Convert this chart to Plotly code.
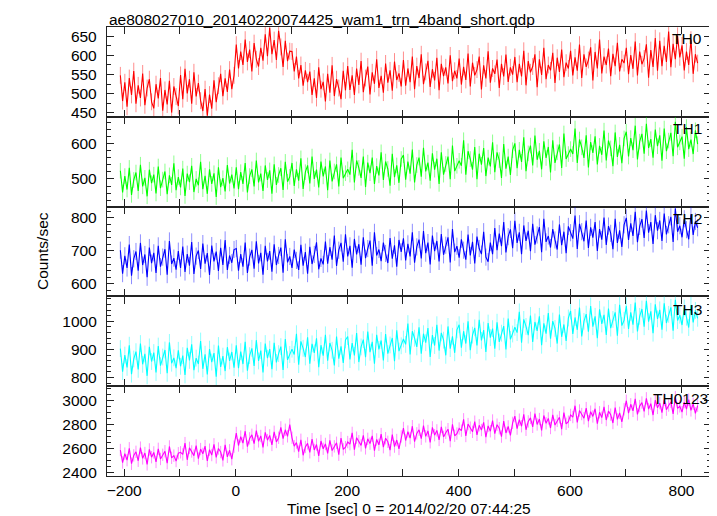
import plotly.graph_objects as go
from plotly.subplots import make_subplots

# ---- data (light curves read at 4 s steps) ----
t_start = -207
t_step = 4

th0 = [548, 481, 530, 466, 541, 497, 559, 474, 522, 489, 553, 470, 515, 538, 479,
       462, 525, 488, 541, 456, 510, 472, 534, 451, 519, 493, 468,
       549, 486, 565, 501, 538, 474, 556, 493, 528, 482,
       455, 512, 443, 498, 461,
       535, 478, 521, 552, 494, 540, 505, 563, 512, 548,
       628, 566, 610, 575, 641, 583, 615, 558, 632, 590, 571, 620, 586,
       655, 598, 672, 603, 640, 588, 664,
       622, 570, 638, 585, 611,
       610, 558, 597, 540, 575, 521, 561, 530,
       558, 497, 540, 489, 569, 512, 531, 480, 552, 503, 574, 494, 538, 515, 486, 560, 509,
       572, 510, 548, 497, 566, 523, 585, 504, 541, 571, 498, 556, 526, 590, 515, 547, 503, 579, 529, 561, 508, 584, 536, 553, 519,
       588, 521, 566, 530, 597, 512, 572, 541, 603, 525, 557, 586, 518, 564, 535, 594, 509, 578, 546, 569, 527, 600, 533, 560, 540,
       592, 524, 570, 536, 605, 519, 581, 548, 563, 597, 511, 574, 540, 611, 529, 566, 552, 589, 515, 578, 545, 602, 531, 569, 550,
       596, 530, 578, 545, 612, 522, 585, 556, 571, 603, 517, 590, 549, 620, 538, 575, 561, 607, 528, 594, 557, 615, 543, 581, 566,
       612, 548, 595, 560, 628, 541, 603, 570, 588, 621, 535, 609, 566, 641, 553, 597, 575, 618, 546, 604, 572, 633, 558, 590, 580,
       620, 551, 601, 565, 636, 548, 610, 577, 592, 629, 542, 614, 570, 645, 560,
       638, 572, 625, 583, 662, 569, 630, 590, 651, 595,
       626, 561, 610, 575, 641, 552, 603, 580]

th1 = [523, 462, 508, 470, 531, 455, 497, 518, 466, 540, 479, 503, 451, 526, 488, 512, 459, 535, 474, 498, 521, 457, 510, 483, 544, 468,
       505, 476, 529, 452, 515, 491, 537, 463, 500, 482, 548, 471, 509, 458, 527, 486, 516, 449, 533, 477, 502, 465, 539, 487, 512, 473,
       533, 471, 519, 486, 545, 462, 508, 527, 479, 552, 490, 515, 466, 538, 497, 524, 458, 541, 483, 511, 530, 469, 548, 492, 506,
       545, 480, 527, 495, 558, 472, 519, 538, 487, 563, 500, 526, 476, 549, 507, 535, 468, 552, 493, 521, 541, 479, 560, 502, 516,
       527, 512, 582, 490, 552, 531, 503, 563, 477, 546, 516, 560, 486, 536, 510, 575, 497, 549, 528, 481, 571, 505, 538, 489, 556,
       567, 498, 549, 515, 583, 490, 539, 560, 506, 588, 521, 546, 495, 572, 526, 557, 486, 575, 512, 542, 563, 499, 594, 522, 537,
       551, 537, 609, 512, 578, 556, 526, 590, 499, 571, 540, 587, 508, 560, 535, 603, 519, 575, 553, 503, 598, 529, 563, 511, 581,
       600, 530, 582, 548, 617, 522, 572, 594, 538, 622, 554, 579, 527, 606, 559, 590, 518, 609, 545, 575, 597, 531, 628, 556, 570,
       584, 570, 642, 545, 611, 589, 559, 623, 532, 604, 573, 620, 541, 593, 568, 636, 552, 608, 586, 536, 631, 562, 596, 544, 614,
       633, 563, 615, 581, 650, 555, 605, 627, 571, 655, 587, 612, 560, 639, 592, 623, 551, 642, 578, 608, 630, 564, 661, 589, 603,
       619, 557, 646, 584, 611, 570, 637, 598]

th2 = [702, 631, 685, 648, 719, 625, 676, 698, 640, 724, 657, 689, 620, 710, 663, 694, 633, 715, 652, 681, 705, 628, 730, 660, 678, 643, 699,
       648, 713, 636, 690, 655, 727, 630, 684, 701, 645, 722, 661, 693, 627, 716, 668, 698, 639, 709, 657, 733, 642, 686, 664, 704,
       707, 640, 690, 652, 725, 633, 681, 703, 646, 729, 662, 694, 628, 715, 668, 699, 637, 720, 657, 686,
       710, 634, 735, 665, 683, 648, 704, 671, 642, 718, 655, 696, 631, 712, 660, 689, 726, 644, 677, 659,
       728, 661, 711, 673, 746, 654, 702, 724, 667, 750, 683, 715, 649, 736, 689, 720, 658, 741, 678, 707,
       731, 655, 756, 686, 704, 669, 725, 692, 663, 739, 676, 717, 652, 733, 697,
       738, 671, 721, 683, 756, 664, 712, 734, 677, 760, 693, 725, 659, 746, 699, 730, 668, 751, 688, 717,
       741, 665, 766, 696, 714, 679, 735, 702, 673, 749, 686, 727, 662, 743, 707, 690, 758, 681,
       667, 725, 690,
       769, 702, 752, 714, 787, 695, 743, 765, 708, 791, 724, 756, 690, 777, 730, 761, 699, 782, 719, 748,
       772, 696, 797, 727, 745, 710, 766, 733, 704, 780, 717, 758, 693, 774,
       755, 737, 807, 706, 782, 758, 729, 792, 709, 771, 740, 787, 700, 766, 734, 801, 718, 775, 753, 705, 797, 724, 762, 712, 779,
       800, 733, 783, 745, 818, 726, 774, 796, 739, 822, 755, 787, 721, 808, 761, 792, 730, 813, 750, 779,
       803, 727, 828, 758, 776, 741, 797, 764, 735, 811, 748, 789, 770]

th3 = [903, 821, 880, 836, 915, 812, 866, 892, 829, 921, 847, 884, 806, 909, 857, 889, 818, 912, 842, 873, 898, 815, 925, 851, 870, 833,
       897, 840, 878, 809, 906, 861, 918, 826, 869, 848, 930, 831, 883, 811, 901, 855, 887, 803, 914, 838, 876, 823, 908, 859, 891, 835,
       915, 833, 892, 848, 927, 824, 878, 904, 841, 933, 859, 896, 818, 921, 869, 901, 830, 924, 854, 885, 910, 827, 937, 863, 882,
       901, 882, 956, 846, 929, 904, 873, 943, 849, 920, 888, 940, 837, 915, 878, 952, 860, 923, 897, 843, 946, 867, 911, 852, 934,
       946, 864, 923, 879, 958, 855, 909, 935, 872, 964, 890, 927, 849, 952, 900, 932, 861, 955, 885, 916, 941, 858, 968, 894, 913,
       937, 918, 992, 882, 965, 940, 909, 979, 885, 956, 924, 976, 873, 951, 914, 988, 896, 959, 933, 879, 982, 903, 947, 888, 970,
       988, 906, 965, 921, 1000, 897, 951, 977, 914, 1006, 932, 969, 891, 994, 942, 974, 903, 997, 927, 958, 983, 900, 1010, 936, 955,
       979, 960, 1034, 924, 1007, 982, 951, 1021, 927, 998, 966, 1018, 915, 993, 956, 1030, 938, 1001, 975, 921, 1024, 945, 989, 930, 1012,
       1037, 955, 1014, 970, 1049, 946, 1000, 1026, 963, 1055, 981, 1018, 940, 1043, 991, 1023, 952, 1046, 976, 1007, 1032, 949, 1059, 985, 1004,
       1055, 973, 1032, 988, 1067, 964, 1018, 1044, 981, 1073, 999, 1036, 958, 1061, 1009, 1041, 970, 1064, 994, 1025, 1050, 967, 1077, 1003, 1022,
       987, 1048, 1015, 978, 1058, 996, 1039, 1011]

th0123 = [2587, 2482, 2557, 2502, 2602, 2472, 2542, 2572, 2497, 2607, 2517, 2562, 2467, 2592, 2527, 2567, 2487, 2597, 2512, 2547,
          2577, 2477, 2617, 2522, 2540, 2495, 2560,
          2568, 2550, 2645, 2505, 2605, 2575, 2540, 2625, 2515, 2595, 2555, 2620, 2495, 2590, 2545, 2635, 2525, 2600, 2570, 2500,
          2630, 2530, 2585, 2510, 2615,
          2730, 2625, 2700, 2645, 2745, 2615, 2685, 2715, 2640, 2750, 2660, 2705, 2610, 2735, 2670, 2710, 2630, 2740, 2655, 2690,
          2777, 2682, 2757, 2702, 2800,
          2690, 2620, 2650, 2573, 2673, 2543, 2613, 2643, 2568, 2678, 2588, 2633, 2538, 2663, 2598, 2638, 2558, 2668, 2583, 2618,
          2648, 2548, 2688, 2593, 2611,
          2654, 2636, 2731, 2591, 2691, 2661, 2626, 2711, 2601, 2681, 2641, 2706, 2581, 2676, 2631, 2721, 2611, 2686, 2656, 2586,
          2716, 2616, 2671, 2596, 2701,
          2772, 2667, 2742, 2687, 2787, 2657, 2727, 2757, 2682, 2792, 2702, 2747, 2652, 2777, 2712, 2752, 2672, 2782, 2697, 2732,
          2762, 2662, 2802, 2707, 2725,
          2768, 2750, 2845, 2705, 2805, 2775, 2740, 2825, 2715, 2795, 2755, 2820, 2695, 2790, 2745, 2835, 2725, 2800, 2770, 2700,
          2830, 2730, 2785, 2710, 2815,
          2872, 2767, 2842, 2787, 2887, 2757, 2827, 2857, 2782, 2892, 2802, 2847, 2752, 2877, 2812, 2852, 2772, 2882, 2797, 2832,
          2862, 2762, 2902, 2807, 2825,
          2882, 2864, 2959, 2819, 2919, 2889, 2854, 2939, 2829, 2909, 2869, 2934, 2809, 2904, 2859, 2949, 2839, 2914, 2884, 2814,
          2944, 2844, 2899, 2824, 2929,
          3001, 2896, 2971, 2916, 3016, 2886, 2956, 2986, 2911, 3021, 2931, 2976, 2881, 3006, 2941, 2981, 2901, 3011, 2926, 2961,
          2991, 2891, 3031, 2936, 2954, 2905, 2990, 2930, 3010, 2920, 2975, 2895, 2960]

band_names = ["TH0", "TH1", "TH2", "TH3", "TH0123"]
band_errors = [22, 22, 26, 30, 52]
x_tick_vals = [-200, -100, 0, 100, 200, 300, 400, 500, 600, 700, 800]
x_tick_text = ["\u2212200", "", "0", "", "200", "", "400", "", "600", "", "800"]

series = [th0, th1, th2, th3, th0123]

# ---- style ----
colors = ["#ff0000", "#00ff00", "#0000ff", "#00ffff", "#ff00ff"]
err_colors = ["rgba(255,0,0,0.45)", "rgba(0,255,0,0.45)", "rgba(0,0,255,0.45)",
              "rgba(0,255,255,0.45)", "rgba(255,0,255,0.45)"]
y_ranges = [[440, 674], [422, 675], [562, 834], [769, 1089], [2369, 3123]]
y_dticks = [50, 100, 100, 100, 200]
y_minor = [25, 20, 20, 20, 50]
FONT = "Liberation Sans, Arial, Helvetica, sans-serif"
FS = 15.5

fig = make_subplots(rows=5, cols=1, shared_xaxes=True, vertical_spacing=0)

for k in range(5):
    vals = series[k]
    times = [t_start + t_step * i for i in range(len(vals))]
    fig.add_trace(go.Scatter(
        x=times, y=vals, mode="lines",
        line=dict(color=colors[k], width=1.1),
        error_y=dict(type="constant", value=band_errors[k], color=err_colors[k],
                     thickness=1, width=0),
        showlegend=False, hoverinfo="skip"), row=k + 1, col=1)
    fig.update_yaxes(row=k + 1, col=1, range=y_ranges[k], dtick=y_dticks[k],
                     tick0=0, ticks="inside", ticklen=7, tickwidth=1, tickcolor="#222",
                     minor=dict(dtick=y_minor[k], ticks="inside", ticklen=4, tickwidth=1,
                                tickcolor="#222"),
                     showline=True, linecolor="#222", linewidth=1.3, mirror="allticks",
                     showgrid=False, zeroline=False, ticklabelstandoff=6,
                     tickfont=dict(family=FONT, size=FS, color="black"))
    fig.update_xaxes(row=k + 1, col=1, range=[-231, 853], tickmode="array",
                     tickvals=x_tick_vals, ticktext=x_tick_text,
                     ticks="inside", ticklen=7, tickwidth=1, tickcolor="#222",
                     showline=True, linecolor="#222", linewidth=1.3, mirror="allticks",
                     showgrid=False, zeroline=False, showticklabels=(k == 4),
                     tickfont=dict(family=FONT, size=FS, color="black"))

# the figure sits 8 px in from the page corner (page body margin)
ph = 449.0
panel_tops = [27, 117, 207, 297, 386]
label_right = [0.989, 0.989, 0.989, 0.989, 0.998]
annotations = []
for k in range(5):
    yc = 1 - (panel_tops[k] + 12 - 27) / ph
    annotations.append(dict(text=band_names[k], xref="paper", yref="paper",
                            x=label_right[k], y=yc, xanchor="right", yanchor="middle",
                            showarrow=False, font=dict(family=FONT, size=FS, color="black")))
annotations.append(dict(text="ae808027010_20140220074425_wam1_trn_4band_short.qdp",
                        xref="paper", yref="paper", x=0.0, y=1 + 18.5 / ph,
                        xanchor="left", yanchor="top", showarrow=False,
                        font=dict(family=FONT, size=FS, color="black")))
annotations.append(dict(text="Counts/sec", xref="paper", yref="paper",
                        x=(42 - 107) / 604.0, y=1 - (251 - 27) / ph, textangle=-90,
                        xanchor="center", yanchor="middle", showarrow=False,
                        font=dict(family=FONT, size=FS, color="black")))
annotations.append(dict(text="Time [sec] 0 = 2014/02/20 07:44:25",
                        xref="paper", yref="paper", x=0.5, y=-(508 - 476) / ph,
                        xanchor="center", yanchor="middle", showarrow=False,
                        font=dict(family=FONT, size=FS, color="black")))

fig.update_layout(width=709, height=508,
                  margin=dict(l=99, r=6, t=19, b=40),
                  paper_bgcolor="white", plot_bgcolor="white",
                  annotations=annotations, showlegend=False,
                  font=dict(family=FONT, size=FS, color="black"))

fig.write_html("out.html")
